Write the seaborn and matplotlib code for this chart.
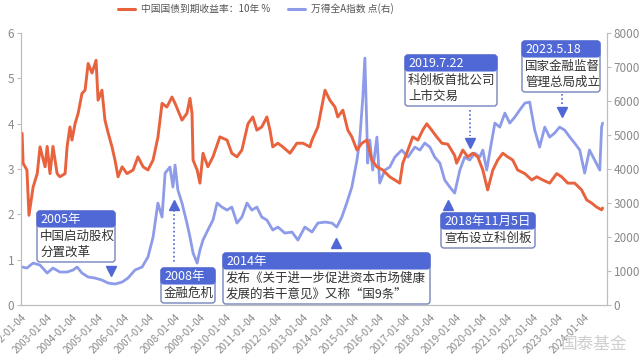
import pandas as pd
import numpy as np
import matplotlib
matplotlib.use("Agg")
import matplotlib.pyplot as plt
import matplotlib.dates as mdates
import matplotlib.transforms as mtransforms
from matplotlib.patches import FancyBboxPatch
from matplotlib.lines import Line2D
import seaborn as sns

# 10Y China government bond yield (%)
bond_dates = [
    "2002-01-15", "2002-01-29", "2002-03-25", "2002-04-23", "2002-06-21", "2002-08-19", "2002-09-28",
    "2002-12-09", "2003-01-08", "2003-02-17", "2003-04-01", "2003-05-30", "2003-07-09", "2003-09-21",
    "2003-10-20", "2003-11-29", "2003-12-28", "2004-02-10", "2004-03-25", "2004-05-19", "2004-07-02",
    "2004-08-15", "2004-10-09", "2004-12-06", "2005-01-04", "2005-02-28", "2005-04-12", "2005-05-27",
    "2005-07-20", "2005-09-02", "2005-10-16", "2005-12-13", "2006-02-21", "2006-05-19", "2006-07-27",
    "2006-10-09", "2006-12-17", "2007-02-28", "2007-05-08", "2007-07-06", "2007-09-13", "2007-11-25",
    "2008-01-08", "2008-04-16", "2008-06-25", "2008-08-08", "2008-09-06", "2008-09-21", "2008-11-18",
    "2008-12-28", "2009-02-10", "2009-04-20", "2009-07-02", "2009-10-09", "2010-01-19", "2010-03-28",
    "2010-06-10", "2010-08-19", "2010-11-14", "2011-01-22", "2011-03-21", "2011-05-30", "2011-08-11",
    "2011-09-24", "2011-11-03", "2012-01-15", "2012-03-25", "2012-07-06", "2012-10-12", "2013-01-08",
    "2013-04-16", "2013-05-16", "2013-08-08", "2013-11-18", "2014-01-26", "2014-04-09", "2014-05-19",
    "2014-07-31", "2014-10-09", "2014-12-06", "2015-02-17", "2015-04-27", "2015-07-09", "2015-09-17",
    "2015-11-29", "2016-02-21", "2016-05-30", "2016-08-11", "2016-10-20", "2016-12-02", "2017-02-14",
    "2017-04-23", "2017-07-06", "2017-09-13", "2017-11-10", "2018-01-19", "2018-04-01", "2018-06-14",
    "2018-09-06", "2018-12-13", "2019-01-10", "2019-04-08", "2019-06-18", "2019-08-28", "2019-11-07",
    "2020-01-19", "2020-03-28", "2020-06-10", "2020-08-19", "2020-10-31", "2021-01-08", "2021-03-21",
    "2021-05-30", "2021-09-10", "2021-12-17", "2022-02-28", "2022-05-23", "2022-08-30", "2022-12-09",
    "2023-02-17", "2023-05-16", "2023-08-22", "2023-11-29", "2024-02-10", "2024-04-20", "2024-07-02",
    "2024-09-10", "2024-09-24",
]
bond_yield = [
    3.79, 3.13, 2.98, 1.98, 2.60, 2.90, 3.49,
    3.05, 3.50, 2.90, 3.50, 2.90, 2.83, 2.90,
    3.50, 3.93, 3.64, 4.00, 4.23, 4.67, 4.74,
    5.33, 5.12, 5.40, 4.52, 4.74, 4.08, 3.80,
    3.50, 3.20, 2.83, 3.05, 2.90, 2.98, 3.27,
    3.05, 2.98, 3.20, 3.70, 4.45, 4.37, 4.59,
    4.45, 4.08, 4.23, 4.56, 4.23, 3.20, 2.98,
    2.69, 3.35, 3.05, 3.27, 3.71, 3.64, 3.35,
    3.27, 3.42, 4.00, 4.15, 3.86, 3.93, 4.15,
    3.86, 3.49, 3.57, 3.49, 3.35, 3.57, 3.57,
    3.49, 3.64, 3.93, 4.74, 4.52, 4.37, 4.15,
    4.30, 3.86, 3.71, 3.42, 3.57, 3.64, 3.20,
    3.05, 2.98, 2.83, 2.76, 2.69, 3.13, 3.42,
    3.71, 3.64, 3.86, 4.00, 3.86, 3.71, 3.57,
    3.55, 3.30, 3.13, 3.42, 3.27, 3.35, 3.27,
    2.98, 2.54, 2.98, 3.20, 3.35, 3.27, 3.20,
    2.98, 2.90, 2.76, 2.83, 2.76, 2.69, 2.90,
    2.83, 2.69, 2.69, 2.54, 2.32, 2.25, 2.16,
    2.10, 2.14,
]

# Wind All-A index (points, right axis)
index_dates = [
    "2002-01-15", "2002-03-25", "2002-06-21", "2002-09-28", "2003-01-08", "2003-04-01", "2003-07-09",
    "2003-10-20", "2004-01-12", "2004-03-10", "2004-05-19", "2004-08-15", "2004-11-21", "2005-02-28",
    "2005-05-27", "2005-09-02", "2005-12-13", "2006-03-07", "2006-06-14", "2006-09-24", "2006-12-17",
    "2007-02-28", "2007-05-08", "2007-07-06", "2007-08-19", "2007-10-27", "2007-12-09", "2008-01-08",
    "2008-02-17", "2008-04-16", "2008-06-25", "2008-08-08", "2008-09-21", "2008-11-18", "2008-12-28",
    "2009-02-10", "2009-04-20", "2009-07-02", "2009-08-30", "2009-11-07", "2010-01-19", "2010-03-28",
    "2010-06-10", "2010-08-19", "2010-10-31", "2011-01-08", "2011-03-21", "2011-05-30", "2011-08-11",
    "2011-11-03", "2012-01-15", "2012-04-23", "2012-08-04", "2012-10-27", "2013-02-03", "2013-05-16",
    "2013-08-08", "2013-11-18", "2014-02-25", "2014-05-05", "2014-07-16", "2014-09-24", "2014-12-06",
    "2015-02-17", "2015-03-28", "2015-05-12", "2015-06-10", "2015-07-09", "2015-07-20", "2015-08-19",
    "2015-09-30", "2015-11-29", "2016-01-08", "2016-03-21", "2016-05-30", "2016-08-11", "2016-11-18",
    "2017-02-14", "2017-05-23", "2017-08-04", "2017-10-12", "2017-12-24", "2018-03-03", "2018-05-16",
    "2018-07-24", "2018-10-05", "2018-12-13", "2019-02-25", "2019-05-05", "2019-07-16", "2019-09-24",
    "2019-12-06", "2020-01-19", "2020-03-14", "2020-05-27", "2020-07-09", "2020-09-17", "2020-11-29",
    "2021-02-06", "2021-04-20", "2021-06-28", "2021-09-10", "2021-11-18", "2022-01-29", "2022-04-09",
    "2022-06-21", "2022-08-30", "2022-11-10", "2023-01-19", "2023-04-01", "2023-06-14", "2023-08-22",
    "2023-11-03", "2024-01-12", "2024-03-21", "2024-06-03", "2024-08-15", "2024-09-10", "2024-09-24",
]
index_level = [
    1118, 1088, 1235, 1176, 941, 1088, 971,
    971, 1029, 1118, 941, 824, 794, 735,
    647, 618, 676, 794, 1029, 1118, 1412,
    2000, 3000, 2588, 3882, 4059, 3471, 4118,
    3382, 3000, 2412, 2000, 1529, 1235, 1618,
    1912, 2206, 2500, 3000, 2882, 2794, 2882,
    2412, 2588, 3000, 2794, 2882, 2588, 2500,
    2206, 2294, 2118, 2147, 1912, 2294, 2147,
    2412, 2441, 2412, 2294, 2588, 3000, 3471,
    4265, 4853, 6118, 7265, 5147, 4176, 4853,
    3971, 4941, 3588, 3971, 4059, 4353, 4559,
    4353, 4647, 4559, 4765, 4647, 4353, 4176,
    3676, 3471, 3294, 3971, 4353, 4265, 4471,
    4353, 4559, 3971, 4853, 5353, 5235, 5647,
    5353, 5529, 5735, 5941, 5971, 5147, 4647,
    5235, 4941, 5059, 5235, 5147, 4941, 4765,
    4559, 3882, 4559, 4265, 3971, 5235, 5353,
]

legend_labels = ["中国国债到期收益率：10年 %", "万得全A指数 点(右)"]
left_ticks = [0, 1, 2, 3, 4, 5, 6]
right_ticks = [0, 1000, 2000, 3000, 4000, 5000, 6000, 7000, 8000]

# callouts: (title, body lines)
events = [
    ("2005年", ["中国启动股权", "分置改革"]),
    ("2008年", ["金融危机"]),
    ("2014年", ["发布《关于进一步促进资本市场健康", "发展的若干意见》又称“国9条”"]),
    ("2018年11月5日", ["宣布设立科创板"]),
    ("2019.7.22", ["科创板首批公司", "上市交易"]),
    ("2023.5.18", ["国家金融监督", "管理总局成立"]),
]

bond = pd.DataFrame({"date": pd.to_datetime(bond_dates), "value": bond_yield})
idx = pd.DataFrame({"date": pd.to_datetime(index_dates), "value": index_level})

sns.set_theme(style="white")
plt.rcParams["font.family"] = ["Noto Sans CJK SC", "DejaVu Sans"]
plt.rcParams["axes.unicode_minus"] = False

RED = "#E8633D"
BLUE = "#8D9BE8"
HEAD = "#5068D6"
EDGE = "#7584BE"
GREY = "#8A8A8A"
SPINE = "#BDBDBD"

fig = plt.figure(figsize=(6.4, 3.64), dpi=100)
ax = fig.add_axes([0.033, 0.162, 0.915, 0.747])
ax2 = ax.twinx()

sns.lineplot(data=idx, x="date", y="value", ax=ax2, color=BLUE, lw=2.0, label=legend_labels[1], legend=False)
sns.lineplot(data=bond, x="date", y="value", ax=ax, color=RED, lw=2.1, label=legend_labels[0], legend=False)

ax.set_zorder(ax2.get_zorder() + 1)
ax.patch.set_visible(False)

ax.set_ylim(0, 6)
ax2.set_ylim(0, 8000)
ax.set_yticks(left_ticks)
ax2.set_yticks(right_ticks)
ax.set_xlim(pd.Timestamp("2002-01-01"), pd.Timestamp("2024-11-22"))

ax.xaxis.set_major_locator(mdates.YearLocator(1, month=1, day=4))
ax.xaxis.set_major_formatter(mdates.DateFormatter("%Y-%m-%d"))
for lab in ax.get_xticklabels():
    lab.set_rotation(45)
    lab.set_ha("right")
    lab.set_rotation_mode("anchor")

ax.set_xlabel("")
ax.set_ylabel("")
ax2.set_ylabel("")

for a in (ax, ax2):
    for s in a.spines.values():
        s.set_color(SPINE)
        s.set_linewidth(0.8)
    a.spines["top"].set_visible(False)
    a.tick_params(colors=GREY, labelsize=8.5, length=3, width=0.8)
ax.tick_params(axis="x", labelsize=7.2, length=3, color=SPINE, pad=2)
ax.tick_params(axis="y", color=SPINE, pad=2)
ax2.tick_params(axis="y", color=SPINE, pad=2)
ax.grid(False)
ax2.grid(False)

# legend at the top
handles = [Line2D([], [], color=RED, lw=2.2), Line2D([], [], color=BLUE, lw=2.2)]
fig.legend(handles, legend_labels, loc="upper center", bbox_to_anchor=(0.40, 1.015), ncol=2,
           frameon=False, fontsize=7, labelcolor="#555555", handlelength=1.8, handletextpad=0.6,
           columnspacing=1.8)

# pixel coordinate system (origin top-left)
px = mtransforms.Affine2D().scale(1 / 640, -1 / 364).translate(0, 1) + fig.transFigure


def callout(x0, y0, w, title, lines):
    head_h, line_h = 16, 16
    h = head_h + line_h * len(lines) + 3
    fig.add_artist(FancyBboxPatch((x0, y0), w, h, boxstyle="round,pad=0,rounding_size=3",
                                  fc="white", ec=EDGE, lw=1.0, transform=px, zorder=5))
    fig.add_artist(FancyBboxPatch((x0, y0), w, head_h, boxstyle="round,pad=0,rounding_size=3",
                                  fc=HEAD, ec=HEAD, lw=0.8, transform=px, zorder=6))
    fig.text(x0 + 3, y0 + head_h / 2 + 0.5, title, transform=px, color="white", fontsize=9,
             va="center", ha="left", zorder=7)
    for i, line in enumerate(lines):
        fig.text(x0 + 3, y0 + head_h + line_h * (i + 0.5) + 1.5, line, transform=px, color="#333333",
                 fontsize=9, va="center", ha="left", zorder=7)


def pointer(x, y, marker, dots=None):
    if dots is not None:
        fig.add_artist(Line2D([x, x], dots, color=HEAD, lw=1.2, ls=(0, (1, 1.5)), transform=px, zorder=5))
    fig.add_artist(Line2D([x], [y], marker=marker, ms=6.5, color=HEAD, mec=HEAD, transform=px, zorder=6))


layout = [(37, 211, 78), (161, 268, 54), (223, 253, 207), (441, 213, 94), (405, 55, 92), (522, 41, 78)]
for (title, lines), (x0, y0, w) in zip(events, layout):
    callout(x0, y0, w, title, lines)

pointer(111, 271, "v")
pointer(174, 205, "^", dots=(210, 262))
pointer(336, 243, "^")
pointer(448, 205, "^")
pointer(470, 143, "v", dots=(110, 136))
pointer(562, 112, "v", dots=(94, 106))

# watermark
fig.text(594, 344, "国泰基金", transform=px, color="#CFCFCF", fontsize=12, ha="center", va="center", zorder=8)

fig.savefig("out.png", dpi=100)
